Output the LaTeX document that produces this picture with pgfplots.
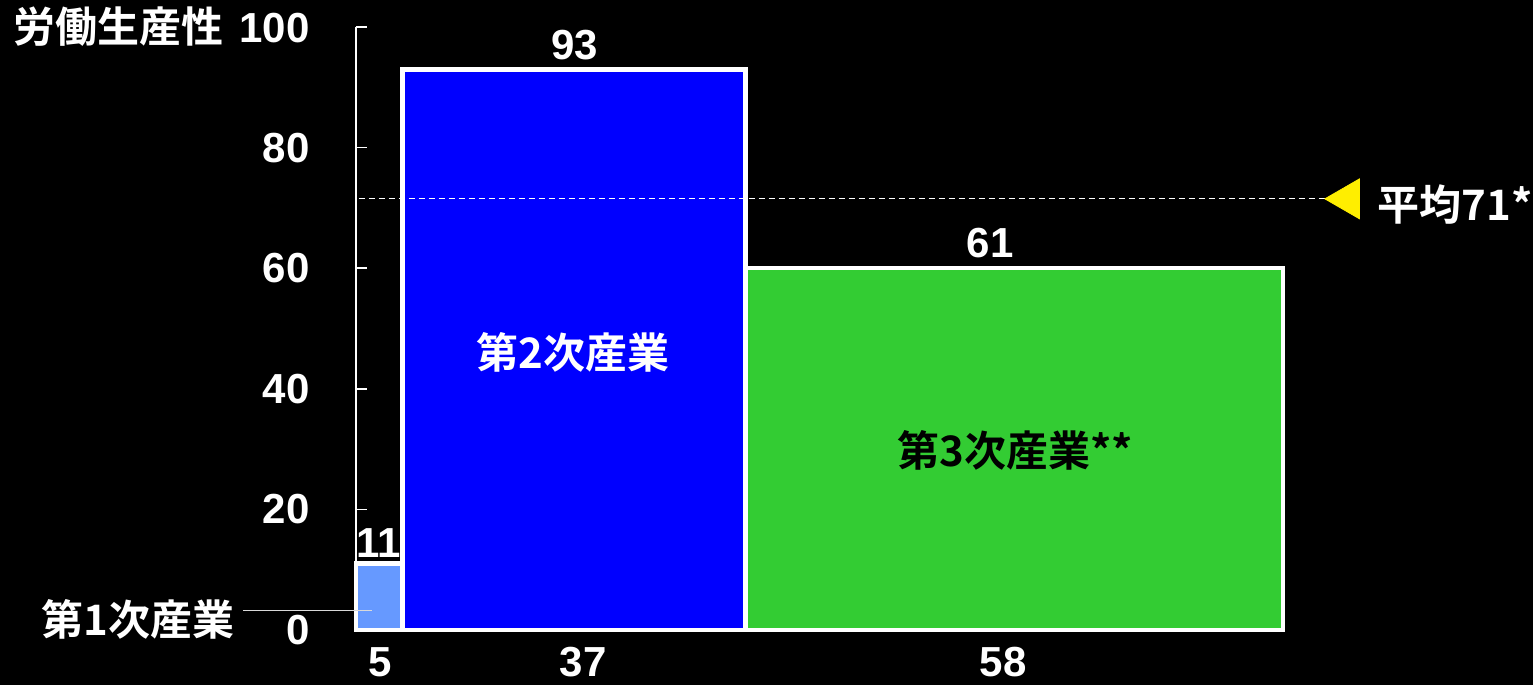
\documentclass[border=0pt]{standalone}
\usepackage{pgfplots}
\pgfplotsset{compat=1.18}
\usepackage{fontspec}
\setmainfont{Liberation Sans}
\newfontfamily\jp{Noto Sans CJK JP}[BoldFont={Noto Sans CJK JP Bold}]
\definecolor{lblue}{HTML}{6699FF}
\definecolor{bblue}{HTML}{0000FF}
\definecolor{bgreen}{HTML}{33CC33}
\definecolor{avgyellow}{HTML}{FFEE00}
\begin{document}
\begin{tikzpicture}
\fill[black] (0,0) rectangle (766.5pt,342.5pt);
\useasboundingbox (0,0) rectangle (766.5pt,342.5pt);
\begin{axis}[
  at={(178pt,27.5pt)}, anchor=south west,
  scale only axis, width=463.5pt, height=301.5pt,
  xmin=0, xmax=100, ymin=0, ymax=100,
  clip=false,
  axis x line=bottom, axis y line=left,
  axis line style={white, line width=0.8pt, -},
  every tick/.style={white, line width=0.8pt},
  tick align=inside, major tick length=5.5pt,
  xtick={20,40,60,80}, xticklabels={},
  ytick={0,20,40,60,80,100},
  yticklabels={0,20,40,60,80,{{\jp\bfseries 労働生産性}\hspace{8pt}100}},
  /pgf/number format/assume math mode=true,
  yticklabel style={anchor=east, inner sep=0pt, xshift=-23pt, text=white, font=\fontsize{21}{25}\selectfont\bfseries},
]
% bars
\addplot[fill=lblue, draw=white, line width=2.3pt] coordinates {(0,0) (0,11) (5,11) (5,0)} -- cycle;
\addplot[fill=bblue, draw=white, line width=2.3pt] coordinates {(5,0) (5,93) (42,93) (42,0)} -- cycle;
\addplot[fill=bgreen, draw=white, line width=2.3pt] coordinates {(42,0) (42,60) (100,60) (100,0)} -- cycle;
% average line
\addplot[white, densely dashed, line width=0.5pt] coordinates {(0.3,71.5) (104.5,71.5)};
\addplot[only marks, mark=triangle*, mark size=11.5pt, mark options={rotate=90, fill=avgyellow, draw=avgyellow}] coordinates {(107.0,71.5)};
% value labels
\node[text=white, font=\fontsize{21}{25}\selectfont\bfseries] at (axis cs:2.4,14.4) {11};
\node[text=white, font=\fontsize{21}{25}\selectfont\bfseries] at (axis cs:23.6,97) {93};
\node[text=white, font=\fontsize{21}{25}\selectfont\bfseries] at (axis cs:68.4,64.2) {61};
% width labels
\node[text=white, inner sep=0pt, font=\fontsize{21}{25}\selectfont\bfseries] at (axis cs:2.6,-5.3) {5};
\node[text=white, inner sep=0pt, font=\fontsize{21}{25}\selectfont\bfseries] at (axis cs:24.5,-5.3) {37};
\node[text=white, inner sep=0pt, font=\fontsize{21}{25}\selectfont\bfseries] at (axis cs:69.8,-5.3) {58};
% category labels
\node[text=white, font=\fontsize{21}{25}\selectfont\jp\bfseries] at (axis cs:23.4,46.1) {第2次産業};
\node[text=black, font=\fontsize{21}{25}\selectfont\jp\bfseries] at (axis cs:71.1,29.8) {第3次産業**};
\node[text=white, font=\fontsize{21}{25}\selectfont\jp\bfseries] at (axis cs:-23.5,1.7) {第1次産業};
\draw[white!85!black, line width=0.6pt] (axis cs:-12.2,3.2) -- (axis cs:1.7,3.2);
\node[text=white, anchor=west, inner sep=0pt, font=\fontsize{21}{25}\selectfont\jp\bfseries] at (axis cs:110.2,70.5) {平均71*};
\end{axis}
\end{tikzpicture}
\end{document}
